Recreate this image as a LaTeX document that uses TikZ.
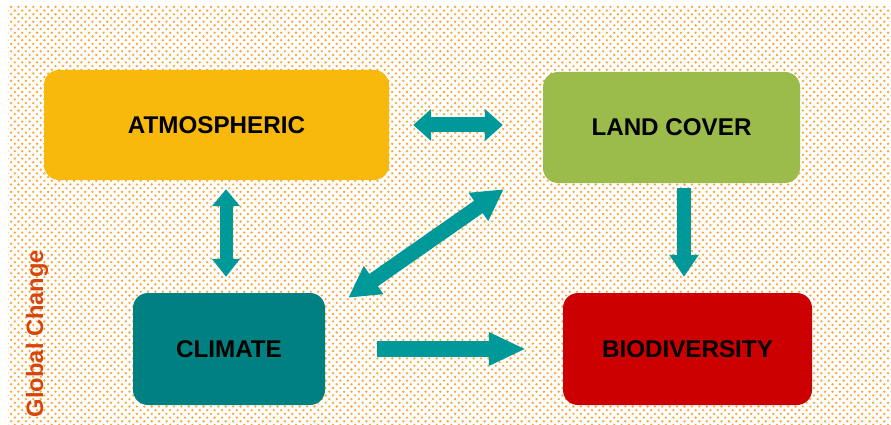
\documentclass[tikz,border=0pt]{standalone}
\usepackage{fontspec}
\setmainfont{Liberation Sans}
\usetikzlibrary{arrows.meta,calc,patterns}
\pgfdeclarepatternformonly{bgdots}{\pgfqpoint{-1.5pt}{-1.5pt}}{\pgfqpoint{5.5pt}{5.5pt}}{\pgfqpoint{7.4pt}{7.4pt}}{%
  \pgfpathcircle{\pgfqpoint{0pt}{0pt}}{1.3pt}%
  \pgfpathcircle{\pgfqpoint{3.7pt}{3.7pt}}{1.3pt}%
  \pgfusepath{fill}}
\definecolor{atmcol}{RGB}{248,185,12}
\definecolor{landcol}{RGB}{155,187,75}
\definecolor{climcol}{RGB}{0,128,128}
\definecolor{biocol}{RGB}{204,0,0}
\definecolor{arrcol}{RGB}{0,153,153}
\definecolor{gccol}{RGB}{214,70,10}
\definecolor{dotcol}{RGB}{249,168,55}
\tikzset{
  box/.style={rounded corners=15pt, inner sep=0pt, text=black,
    font=\fontsize{24.2}{28}\selectfont\bfseries},
  fat/.style={draw=arrcol, line cap=butt},
}
\begin{document}
\begin{tikzpicture}[x=1pt,y=-1pt]
\useasboundingbox (0,0) rectangle (891,425);
\fill[white] (0,0) rectangle (891,425);
\fill[pattern=bgdots, pattern color=dotcol] (8,5) rectangle (891,425);

\node[box, fill=atmcol, minimum width=345pt, minimum height=110pt] (atm) at (216.5,125) {ATMOSPHERIC};
\node[box, fill=landcol, minimum width=257pt, minimum height=111pt] (land) at (671.5,127.5) {LAND COVER};
\node[box, fill=climcol, minimum width=192pt, minimum height=112pt] (clim) at (229,349) {CLIMATE};
\node[box, fill=biocol, minimum width=249pt, minimum height=112pt] (bio) at (687.5,349) {BIODIVERSITY};

\node[rotate=90, text=gccol, font=\fontsize{23.7}{28}\selectfont\bfseries] (gc) at (37,333.5) {Global Change};

% atm <-> land
\coordinate (h1) at ($(atm.east)+(24,0)$);
\coordinate (h2) at ($(atm.east -| land.west)+(-40,0)$);
\draw[fat, line width=15pt, {Triangle[width=31pt,length=18pt]}-{Triangle[width=31pt,length=18pt]}] (h1) -- (h2);

% atm <-> clim
\coordinate (v1) at ($(atm.south)+(9.5,9)$);
\coordinate (v2) at ($(clim.north)+(-3,-16)$);
\draw[fat, line width=13pt, {Triangle[width=27pt,length=17pt]}-{Triangle[width=27pt,length=18pt]}] (v1) -- (v2);

% clim <-> land (diagonal)
\coordinate (d1) at ($(clim.north east)+(23,5)$);
\coordinate (d2) at ($(land.south west)+(-39,6)$);
\draw[fat, line width=15pt, {Triangle[width=32pt,length=31pt]}-{Triangle[width=32pt,length=31pt]}] (d1) -- (d2);

% land -> bio
\coordinate (l1) at ($(land.south)+(12.5,5)$);
\coordinate (l2) at ($(bio.north)+(-3.5,-16)$);
\draw[fat, line width=14pt, -{Triangle[width=28pt,length=22pt]}] (l1) -- (l2);

% clim -> bio
\coordinate (c1) at ($(clim.east)+(52,0)$);
\coordinate (c2) at ($(bio.west)+(-37,0)$);
\draw[fat, line width=16pt, -{Triangle[width=31pt,length=37pt]}] (c1) -- (c2);
\end{tikzpicture}
\end{document}
